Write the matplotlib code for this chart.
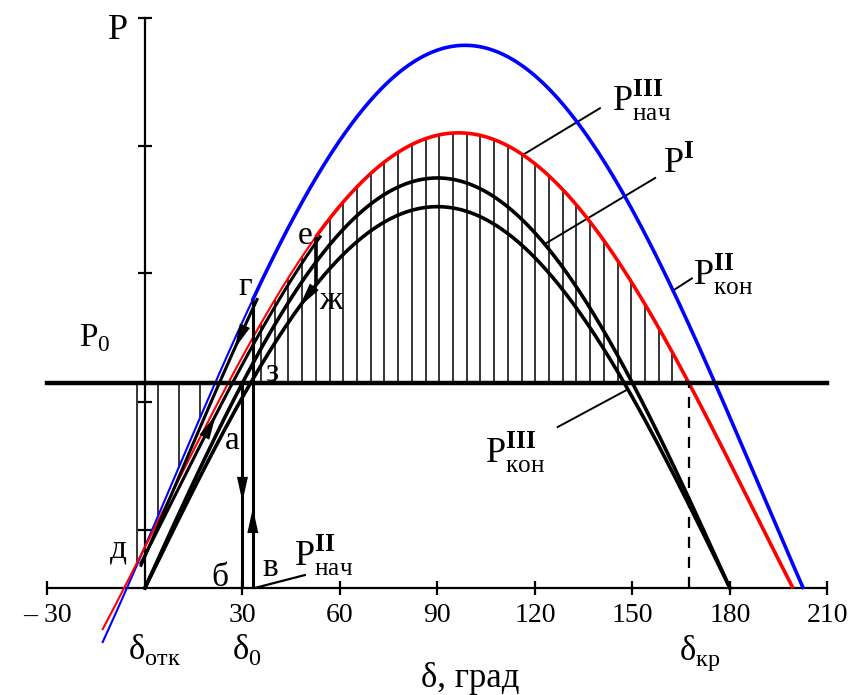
import numpy as np
import matplotlib.pyplot as plt

plt.rcParams['font.family'] = ['Liberation Serif', 'DejaVu Serif']
plt.rcParams['mathtext.fontset'] = 'custom'
plt.rcParams['mathtext.rm'] = 'Liberation Serif'
plt.rcParams['mathtext.bf'] = 'Liberation Serif:bold'

# power-angle characteristics: P = Pc + Pm * cos(delta - delta_peak)
char_I = (0.0, 2.0, 90.0)
char_III_kon = (0.0, 1.86, 90.0)
char_III_nach = (0.405, 1.815, 96.5)
char_II_kon = (0.517, 2.13, 98.5)

P0 = 1.0
delta_v = 33.2      # fault cleared (points в, г)
delta_otk = -2.5    # turning point д
delta_e = 52.6      # switch point е -> ж

x_ticks = [-30, 30, 60, 90, 120, 150, 180, 210]
x_tick_labels = ['– 30', '30', '60', '90', '120', '150', '180', '210']
y_ticks = [0.283, 0.907, 1.537, 2.156, 2.78]


def P(char, d):
    pc, pm, dp = char
    return pc + pm * np.cos(np.radians(np.asarray(d) - dp))


delta_0 = np.degrees(np.arcsin(P0 / char_I[1]))
pc, pm, dp = char_III_nach
delta_kr = dp + np.degrees(np.arccos((P0 - pc) / pm))

fig = plt.figure(figsize=(8.56, 6.95), dpi=100)
ax = fig.add_axes([0, 0, 1, 1])
ax.set_xlim(-44.6, 218.8)
ax.set_ylim(-0.522, 2.868)

# axes through the origin
for side in ['top', 'right']:
    ax.spines[side].set_visible(False)
ax.spines['bottom'].set_position(('data', 0))
ax.spines['left'].set_position(('data', 0))
ax.spines['bottom'].set_bounds(x_ticks[0], x_ticks[-1])
ax.spines['left'].set_bounds(0, y_ticks[-1])
ax.spines['bottom'].set_linewidth(1.6)
ax.spines['left'].set_linewidth(1.6)
ax.set_xticks(x_ticks)
ax.set_xticklabels(x_tick_labels)
ax.set_yticks(y_ticks)
ax.set_yticklabels([])
ax.tick_params(axis='x', direction='inout', length=10, width=1.6, labelsize=20, pad=6)
ax.tick_params(axis='y', direction='inout', length=10, width=1.6)

# hatched areas
hatch_up = delta_e + 4.22 * np.arange(-5, 28)
hatch_up = hatch_up[(hatch_up > delta_v) & (hatch_up <= delta_kr)]
ax.vlines(hatch_up, P0, P(char_III_nach, hatch_up), color='k', lw=1.1)
hatch_low = np.arange(delta_otk, delta_0, 6.5)
hatch_low = hatch_low[P(char_II_kon, hatch_low) < P0]
ax.vlines(hatch_low, P(char_II_kon, hatch_low), P0, color='k', lw=1.1)

# curves
d_full = np.linspace(-13, 205, 600)
for char, color, d_thick in [(char_II_kon, '#0000ff', delta_v),
                             (char_III_nach, '#ff0000', delta_e)]:
    vals = P(char, d_full)
    keep = (d_full < 90) | (vals >= 0)
    d, v = d_full[keep], vals[keep]
    ax.plot(d[d <= d_thick], v[d <= d_thick], color=color, lw=1.5, zorder=3)
    ax.plot(d[d >= d_thick], v[d >= d_thick], color=color, lw=2.6, zorder=3)

d_sin = np.linspace(0, 180, 400)
ax.plot(d_sin, P(char_I, d_sin), color='k', lw=2.6, zorder=3)
ax.plot(d_sin, P(char_III_kon, d_sin), color='k', lw=2.6, zorder=3)

# trajectory of the operating point
shift = 1.3
d_g = np.linspace(delta_otk, delta_v, 100)
ax.plot(d_g + shift, P(char_II_kon, d_g), color='k', lw=2.2, zorder=3)
d_d = np.linspace(delta_otk, delta_e, 100)
ax.plot(d_d + shift, P(char_III_nach, d_d), color='k', lw=2.2, zorder=3)
ax.vlines(delta_0, 0, P0, color='k', lw=2.2, zorder=3)
ax.vlines(delta_v, 0, P(char_II_kon, delta_v), color='k', lw=2.2, zorder=3)
ax.vlines(delta_e, P(char_III_kon, delta_e), P(char_III_nach, delta_e), color='k', lw=2.6, zorder=3)
ax.vlines(delta_kr, 0, P0, color='k', lw=1.6, linestyles=(0, (5, 4)), zorder=3)

ax.plot([-30, 210], [P0, P0], color='k', lw=3.2, zorder=4)

head = dict(arrowstyle='-|>,head_length=1.0,head_width=0.22', color='k', lw=0,
            shrinkA=0, shrinkB=0, mutation_scale=18)


def arrow(x0, y0, x1, y1):
    ax.annotate('', xy=(x1, y1), xytext=(x0, y0), arrowprops=head, zorder=5)


arrow(delta_0, 0.55, delta_0, 0.42)
arrow(delta_v, 0.26, delta_v, 0.39)
arrow(29.5 + shift, P(char_II_kon, 29.5), 26.3 + shift, P(char_II_kon, 26.3))
arrow(17.0 + shift, P(char_III_nach, 17.0), 20.5 + shift, P(char_III_nach, 20.5))
arrow(51.0, P(char_III_kon, 51.0), 47.5, P(char_III_kon, 47.5))

# leader lines for the curve labels
leaders = [(char_III_nach, 116.3, 140.0, 2.34),
           (char_I, 123.0, 157.0, 2.00),
           (char_II_kon, 162.5, 168.3, 1.51),
           (char_III_kon, 148.6, 127.0, 0.785)]
for char, d0, d1, p1 in leaders:
    ax.plot([d0, d1], [P(char, d0), p1], color='k', lw=1.4)
ax.plot([delta_v + 0.6, 49.2], [0.0, 0.063], color='k', lw=1.6)

fs = 26
ax.text(152.8, 2.38, r'$\mathrm{P}^{\mathbf{III}}_{\mathrm{нач}}$', fontsize=fs, ha='center', va='center')
ax.text(164.2, 2.07, r'$\mathrm{P}^{\mathbf{I}}$', fontsize=fs, ha='center', va='center')
ax.text(178.0, 1.53, r'$\mathrm{P}^{\mathbf{II}}_{\mathrm{кон}}$', fontsize=fs, ha='center', va='center')
ax.text(113.8, 0.66, r'$\mathrm{P}^{\mathbf{III}}_{\mathrm{кон}}$', fontsize=fs, ha='center', va='center')
ax.text(55.0, 0.16, r'$\mathrm{P}^{\mathbf{II}}_{\mathrm{нач}}$', fontsize=fs, ha='center', va='center')

ax.text(-8.3, 2.72, 'P', fontsize=26, ha='center', va='center')
ax.text(-15.4, 1.22, r'$\mathrm{P}_{0}$', fontsize=24, ha='center', va='center')

for s, x, y in [('г', 30.8, 1.47), ('е', 49.4, 1.72), ('ж', 57.0, 1.40), ('з', 39.1, 1.05),
                ('а', 26.8, 0.72), ('д', -8.3, 0.19), ('б', 23.1, 0.05), ('в', 38.5, 0.10)]:
    ax.text(x, y, s, fontsize=24, ha='center', va='center')

ax.text(3.0, -0.30, r'$\mathrm{δ}_{\mathrm{отк}}$', fontsize=25, ha='center', va='center')
ax.text(31.4, -0.30, r'$\mathrm{δ}_{\mathrm{0}}$', fontsize=25, ha='center', va='center')
ax.text(170.8, -0.32, r'$\mathrm{δ}_{\mathrm{кр}}$', fontsize=25, ha='center', va='center')
ax.text(100.0, -0.44, 'δ, град', fontsize=25, ha='center', va='center')

fig.savefig('out.png', dpi=100)
